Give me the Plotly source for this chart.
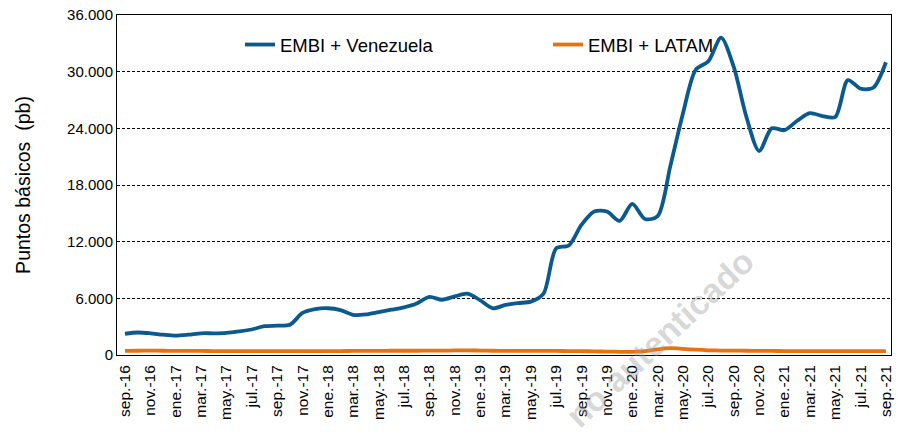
import plotly.graph_objects as go

months = ["sep.-16","oct.-16","nov.-16","dic.-16","ene.-17","feb.-17","mar.-17","abr.-17","may.-17","jun.-17",
          "jul.-17","ago.-17","sep.-17","oct.-17","nov.-17","dic.-17","ene.-18","feb.-18","mar.-18","abr.-18",
          "may.-18","jun.-18","jul.-18","ago.-18","sep.-18","oct.-18","nov.-18","dic.-18","ene.-19","feb.-19",
          "mar.-19","abr.-19","may.-19","jun.-19","jul.-19","ago.-19","sep.-19","oct.-19","nov.-19","dic.-19",
          "ene.-20","feb.-20","mar.-20","abr.-20","may.-20","jun.-20","jul.-20","ago.-20","sep.-20","oct.-20",
          "nov.-20","dic.-20","ene.-21","feb.-21","mar.-21","abr.-21","may.-21","jun.-21","jul.-21","ago.-21",
          "sep.-21"]

venezuela = [2250, 2380, 2300, 2150, 2050, 2150, 2300, 2300, 2350, 2500,
             2700, 3050, 3100, 3200, 4450, 4850, 4950, 4750, 4250, 4300,
             4550, 4800, 5050, 5450, 6150, 5850, 6200, 6500, 5800, 4950,
             5300, 5500, 5650, 6500, 11300, 11600, 13800, 15200, 15200, 14200,
             16000, 14400, 14700, 20000, 25600, 30200, 31100, 33600, 30500, 25200,
             21600, 24000, 23800, 24800, 25600, 25300, 25200, 29100, 28200, 28300,
             31000]

latam = [440, 450, 460, 450, 440, 430, 430, 420, 420, 420,
         420, 420, 420, 420, 420, 420, 420, 420, 430, 430,
         440, 450, 450, 450, 460, 460, 480, 490, 470, 450,
         440, 440, 440, 440, 430, 420, 410, 380, 360, 340,
         340, 400, 600, 720, 650, 560, 500, 470, 460, 450,
         440, 430, 420, 420, 410, 410, 400, 400, 400, 410,
         420]

x_idx = list(range(len(months)))
tick_idx = x_idx[::2]
tick_text = months[::2]

font_family = "Arial, Liberation Sans, sans-serif"

fig = go.Figure()
fig.add_trace(go.Scatter(x=x_idx, y=venezuela, mode="lines", name="EMBI + Venezuela", legend="legend",
                         line=dict(color="#0B5A8E", width=3.8, shape="spline", smoothing=0.8)))
fig.add_trace(go.Scatter(x=x_idx, y=latam, mode="lines", name="EMBI + LATAM", legend="legend2",
                         line=dict(color="#E8720C", width=3.8, shape="spline", smoothing=0.8)))

leg_common = dict(orientation="h", yanchor="middle", xanchor="left", bgcolor="rgba(0,0,0,0)",
                  font=dict(size=18.5), itemwidth=30, borderwidth=0)

fig.update_layout(
    width=898, height=434,
    margin=dict(l=117, r=7, t=15, b=79),
    paper_bgcolor="white", plot_bgcolor="white",
    separators=",.",
    font=dict(family=font_family, size=15, color="black"),
    showlegend=True,
    legend=dict(x=(240 - 117) / 774, y=(355 - 45) / 340, **leg_common),
    legend2=dict(x=(548 - 117) / 774, y=(355 - 45) / 340, **leg_common),
    xaxis=dict(range=[-0.63, 60.4], tickmode="array", tickvals=tick_idx, ticktext=tick_text,
               tickangle=-90, tickfont=dict(size=15.5), showgrid=False, zeroline=False,
               showline=True, linecolor="black", linewidth=1, mirror=True, ticks="",
               ticklabelstandoff=3, automargin=False),
    yaxis=dict(range=[0, 36000], tickvals=[0, 6000, 12000, 18000, 24000, 30000, 36000],
               tickformat=",d", tickfont=dict(size=15), showgrid=True, gridcolor="black",
               griddash="3px,2px", gridwidth=0.8, zeroline=False, showline=True, linecolor="black",
               linewidth=1, mirror=True, ticks="", automargin=False,
               title=dict(text="Puntos básicos  (pb)", font=dict(size=19.5), standoff=31)),
)

fig.add_annotation(text="<b>no autenticado</b>", xref="paper", yref="paper",
                   x=(660 - 117) / 774, y=(355 - 338) / 340, xanchor="center", yanchor="middle",
                   showarrow=False, textangle=-43, font=dict(size=34, color="rgba(160,160,160,0.42)",
                   family="Arial, Liberation Sans, sans-serif"))

fig.write_html("out.html", config={"displayModeBar": False},
               post_script="document.body.style.margin='0';document.body.style.padding='0';")
